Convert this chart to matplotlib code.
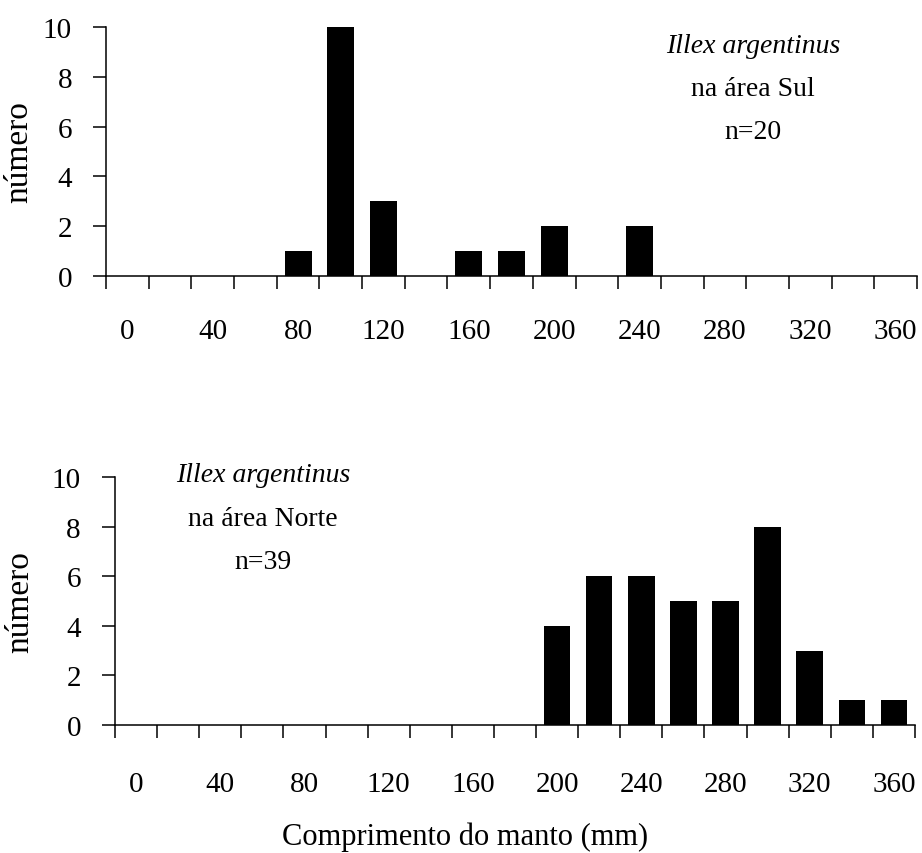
import matplotlib.pyplot as plt

plt.rcParams['font.family'] = ['Liberation Serif', 'DejaVu Serif']

# comprimento do manto (mm), classes de 20 mm
lengths = [0, 20, 40, 60, 80, 100, 120, 140, 160, 180,
           200, 220, 240, 260, 280, 300, 320, 340, 360]
sul_counts = [0, 0, 0, 0, 1, 10, 3, 0, 1, 1,
              2, 0, 2, 0, 0, 0, 0, 0, 0]
norte_counts = [0, 0, 0, 0, 0, 0, 0, 0, 0, 0,
                4, 6, 6, 5, 5, 8, 3, 1, 1]
yticks = [0, 2, 4, 6, 8, 10]

fig = plt.figure(figsize=(9.22, 8.54), dpi=100)
ax1 = fig.add_axes([0.115, 0.6757, 0.8796, 0.2915])
ax2 = fig.add_axes([0.1247, 0.1499, 0.8677, 0.2904])


def style_axis(ax, counts, pad_x):
    pos = list(range(len(lengths)))
    ax.bar(pos, counts, width=0.63, color='black')
    ax.set_xlim(-0.5, len(lengths) - 0.5)
    ax.set_ylim(0, 10)
    ax.set_yticks(yticks)
    ax.tick_params(axis='y', direction='out', length=9.5, width=1.1,
                   labelsize=21, pad=15)
    # ticks at the class boundaries, labels on every second class
    ax.set_xticks([p - 0.5 for p in pos] + [len(lengths) - 0.5])
    ax.set_xticklabels([])
    ax.set_xticks(pos[::2], minor=True)
    ax.set_xticklabels([str(v) for v in lengths[::2]], minor=True)
    ax.tick_params(axis='x', which='major', direction='out', length=9.5, width=1.1)
    ax.tick_params(axis='x', which='minor', length=0, labelsize=21, pad=pad_x)
    for s in ['top', 'right']:
        ax.spines[s].set_visible(False)
    for s in ['left', 'bottom']:
        ax.spines[s].set_linewidth(1.1)
    ax.set_ylabel('número', fontsize=24)


style_axis(ax1, sul_counts, 30)
style_axis(ax2, norte_counts, 33)
ax1.yaxis.set_label_coords(-0.088, 0.5)
ax2.yaxis.set_label_coords(-0.1, 0.5)

ax1.text(0.798, 0.924, 'Illex argentinus', style='italic', fontsize=20,
         ha='center', va='center', transform=ax1.transAxes)
ax1.text(0.798, 0.755, 'na área Sul', fontsize=20,
         ha='center', va='center', transform=ax1.transAxes)
ax1.text(0.798, 0.582, 'n=20', fontsize=20,
         ha='center', va='center', transform=ax1.transAxes)

ax2.text(0.185, 1.012, 'Illex argentinus', style='italic', fontsize=20,
         ha='center', va='center', transform=ax2.transAxes)
ax2.text(0.185, 0.831, 'na área Norte', fontsize=20,
         ha='center', va='center', transform=ax2.transAxes)
ax2.text(0.185, 0.661, 'n=39', fontsize=20,
         ha='center', va='center', transform=ax2.transAxes)

ax2.set_xlabel('Comprimento do manto (mm)', fontsize=22)
ax2.xaxis.set_label_coords(0.4375, -0.39)

fig.savefig('out.png', dpi=100)
